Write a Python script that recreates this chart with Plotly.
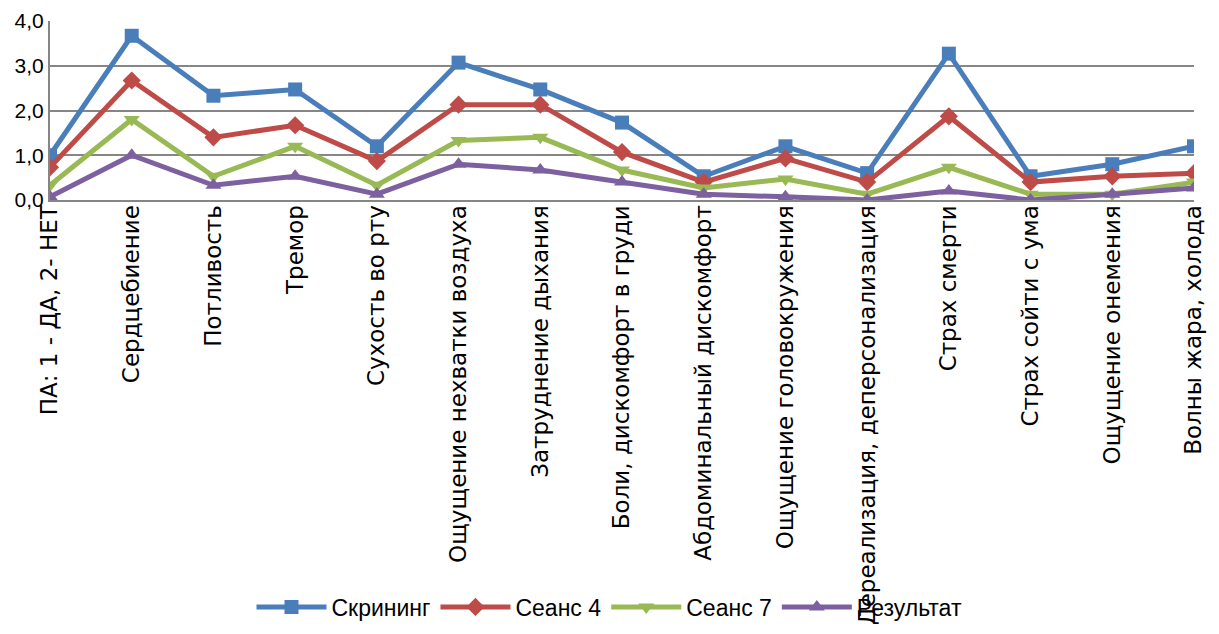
import plotly.graph_objects as go

categories = [
    "ПА: 1 - ДА, 2- НЕТ",
    "Сердцебиение",
    "Потливость",
    "Тремор",
    "Сухость во рту",
    "Ощущение нехватки воздуха",
    "Затруднение дыхания",
    "Боли, дискомфорт в груди",
    "Абдоминальный дискомфорт",
    "Ощущение головокружения",
    "Дереализация, деперсонализация",
    "Страх смерти",
    "Страх сойти с ума",
    "Ощущение онемения",
    "Волны жара, холода",
]

screening = [1.00, 3.67, 2.33, 2.47, 1.20, 3.07, 2.47, 1.73, 0.53, 1.20, 0.60, 3.27, 0.53, 0.80, 1.20]
session4 = [0.73, 2.67, 1.40, 1.67, 0.87, 2.13, 2.13, 1.07, 0.40, 0.93, 0.40, 1.87, 0.40, 0.53, 0.60]
session7 = [0.33, 1.80, 0.53, 1.20, 0.33, 1.33, 1.40, 0.67, 0.27, 0.47, 0.13, 0.73, 0.13, 0.13, 0.40]
result = [0.07, 1.00, 0.33, 0.53, 0.13, 0.80, 0.67, 0.40, 0.13, 0.07, 0.00, 0.20, 0.00, 0.13, 0.27]

series_names = ["Скрининг", "Сеанс 4", "Сеанс 7", "Результат"]
series_colors = ["#4A7EBB", "#BE4B48", "#98B954", "#7D60A0"]
series_symbols = ["square", "diamond", "triangle-down", "triangle-up"]
series_values = [screening, session4, session7, result]

fig = go.Figure()
for name, vals, color, sym in zip(series_names, series_values, series_colors, series_symbols):
    fig.add_trace(go.Scatter(
        x=categories, y=vals, name=name, mode="lines+markers",
        line=dict(color=color, width=5),
        marker=dict(symbol=sym, size=14, color=color),
    ))

fig.update_layout(
    width=1219, height=634,
    margin=dict(l=50, r=25, t=21, b=434, autoexpand=False),
    paper_bgcolor="white", plot_bgcolor="white",
    separators=", ",
    font=dict(family="Liberation Sans, Arial, sans-serif", size=20, color="black"),
    showlegend=True,
    legend=dict(
        orientation="h", xref="container", yref="container",
        x=0.5, xanchor="center", y=1 - 607 / 634, yanchor="middle",
        font=dict(size=23), itemwidth=70, traceorder="normal",
        bgcolor="rgba(0,0,0,0)",
    ),
)
fig.update_xaxes(
    type="category", tickangle=-90, automargin=False,
    showgrid=False, showline=True, linecolor="#868686", linewidth=2,
    ticks="", tickfont=dict(size=23, family="DejaVu Sans, Liberation Sans, sans-serif"),
    ticklabelstandoff=-6,
    range=[0, len(categories) - 1], zeroline=False,
)
fig.update_yaxes(
    range=[0, 4], dtick=1, tickformat=".1f", automargin=False,
    showgrid=True, gridcolor="#868686", gridwidth=2,
    showline=True, linecolor="#868686", linewidth=2,
    zeroline=False, ticks="", tickfont=dict(size=21),
)

fig.write_html("out.html")
